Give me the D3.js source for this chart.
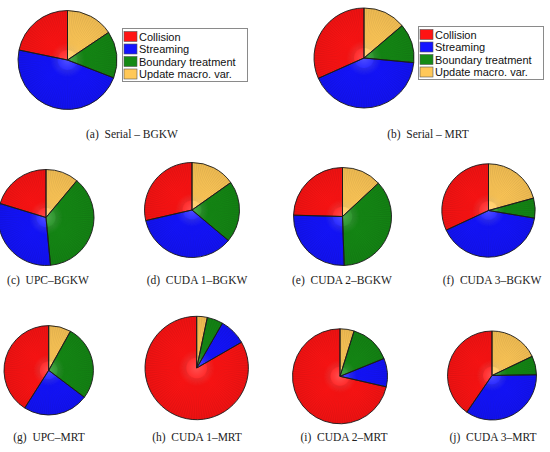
<!DOCTYPE html>
<html>
<head>
<meta charset="utf-8">
<script src="https://cdn.jsdelivr.net/npm/d3@7"></script>
<style>
  body { margin: 0; background: #fff; }
  svg { display: block; }
</style>
</head>
<body>
<script>
// categories, in the order they are drawn (counter-clockwise from 12 o'clock)
var labels = ["Collision", "Streaming", "Boundary treatment", "Update macro. var."];
var colors = ["#ff1414", "#1414ff", "#158a15", "#ffc858"];

// share of run time (%)
var serialBGKW = [21.8, 47.4, 15.3, 15.6];
var serialMRT  = [31.7, 41.9, 12.7, 13.8];
var upcBGKW    = [20.3, 31.2, 37.4, 11.1];
var cuda1BGKW  = [28.6, 35.3, 20.9, 15.2];
var cuda2BGKW  = [24.6, 26.0, 36.4, 13.1];
var cuda3BGKW  = [31.9, 40.4, 6.9, 20.7];
var upcMRT     = [41.0, 23.7, 27.2, 8.1];
var cuda1MRT   = [83.3, 8.4, 5.0, 3.3];
var cuda2MRT   = [71.5, 9.7, 14.1, 4.8];
var cuda3MRT   = [40.4, 34.8, 6.8, 17.9];

var captions = ["(a)  Serial \u2013 BGKW", "(b)  Serial \u2013 MRT",
    "(c)  UPC\u2013BGKW", "(d)  CUDA 1\u2013BGKW", "(e)  CUDA 2\u2013BGKW", "(f)  CUDA 3\u2013BGKW",
    "(g)  UPC\u2013MRT", "(h)  CUDA 1\u2013MRT", "(i)  CUDA 2\u2013MRT", "(j)  CUDA 3\u2013MRT"];

var series = [serialBGKW, serialMRT, upcBGKW, cuda1BGKW, cuda2BGKW, cuda3BGKW,
    upcMRT, cuda1MRT, cuda2MRT, cuda3MRT];

// layout: pie centre, radius, caption position
var layout = [
    {cx: 67.5, cy: 60, r: 49.5, tx: 132, ty: 134},
    {cx: 364, cy: 58, r: 50, tx: 428, ty: 134},
    {cx: 46, cy: 217.5, r: 48, tx: 48, ty: 280},
    {cx: 192, cy: 210, r: 47.5, tx: 197, ty: 280},
    {cx: 342.5, cy: 216.5, r: 49, tx: 342, ty: 280},
    {cx: 488.5, cy: 210.5, r: 46.7, tx: 492, ty: 280},
    {cx: 48.7, cy: 370.3, r: 44.7, tx: 49, ty: 437},
    {cx: 196.7, cy: 368, r: 51.7, tx: 197, ty: 437},
    {cx: 340, cy: 376.3, r: 47.5, tx: 344, ty: 437},
    {cx: 492, cy: 375.5, r: 44.5, tx: 493, ty: 437}
];
var legendBoxes = [{x: 122.5, y: 28.5}, {x: 418.5, y: 26.5}];

var W = 550, H = 452;
var svg = d3.select("body").append("svg").attr("width", W).attr("height", H);
var defs = svg.append("defs");

var pie = d3.pie().sort(null).value(function(d){ return d; })
    .startAngle(0).endAngle(-2 * Math.PI);

series.forEach(function(vals, k){
    var L = layout[k];
    var g = svg.append("g").attr("transform", "translate(" + L.cx + "," + L.cy + ")");
    var arc = d3.arc().innerRadius(0).outerRadius(L.r);

    // radial gradient centred on the pie centre
    colors.forEach(function(c, i){
        var rg = defs.append("radialGradient").attr("id", "pg" + k + "_" + i)
            .attr("gradientUnits", "userSpaceOnUse")
            .attr("cx", 0).attr("cy", 0).attr("r", L.r);
        rg.append("stop").attr("offset", "0%").attr("stop-color", d3.interpolateRgb(c, "#fff")(0.25));
        rg.append("stop").attr("offset", "35%").attr("stop-color", c);
        rg.append("stop").attr("offset", "100%").attr("stop-color", d3.interpolateRgb(c, "#000")(0.08));
    });

    g.selectAll("path.slice")
        .data(pie(vals))
        .enter()
        .append("path")
        .attr("class", "slice")
        .attr("d", arc)
        .attr("fill", function(d, i){ return "url(#pg" + k + "_" + i + ")"; });

    // fine radial hatching like the original shading
    var rays = d3.range(0, 360, 3);
    g.selectAll("line.ray")
        .data(rays)
        .enter()
        .append("line")
        .attr("class", "ray")
        .attr("x1", function(a){ return L.r * 0.2 * Math.sin(a * Math.PI / 180); })
        .attr("y1", function(a){ return -L.r * 0.2 * Math.cos(a * Math.PI / 180); })
        .attr("x2", function(a){ return L.r * Math.sin(a * Math.PI / 180); })
        .attr("y2", function(a){ return -L.r * Math.cos(a * Math.PI / 180); })
        .attr("stroke", "#000")
        .attr("stroke-opacity", 0.1)
        .attr("stroke-width", 0.5);

    g.selectAll("path.edge")
        .data(pie(vals))
        .enter()
        .append("path")
        .attr("class", "edge")
        .attr("d", arc)
        .attr("fill", "none")
        .attr("stroke", "#1a1a1a")
        .attr("stroke-width", 0.9)
        .attr("stroke-linejoin", "round");

    svg.append("text")
        .attr("x", L.tx)
        .attr("y", L.ty)
        .attr("dy", "0.35em")
        .attr("text-anchor", "middle")
        .style("font-family", "'Liberation Serif', 'DejaVu Serif', serif")
        .style("font-size", "11.5px")
        .style("white-space", "pre")
        .attr("xml:space", "preserve")
        .attr("fill", "#222")
        .text(captions[k]);
});

// legends
legendBoxes.forEach(function(b){
    var lg = svg.append("g").attr("transform", "translate(" + b.x + "," + b.y + ")");
    lg.append("rect")
        .attr("width", 125).attr("height", 53)
        .attr("fill", "#fff")
        .attr("stroke", "#8a8a8a")
        .attr("stroke-width", 1);
    var y = d3.scaleBand().domain(labels).range([1.5, 51.5]);
    var rows = lg.selectAll("g.row")
        .data(labels)
        .enter()
        .append("g")
        .attr("class", "row")
        .attr("transform", function(d){ return "translate(0," + y(d) + ")"; });
    rows.append("rect")
        .attr("x", 1.5).attr("y", 1.5)
        .attr("width", 13).attr("height", 10)
        .attr("fill", function(d, i){ return colors[i]; })
        .attr("stroke", "#555")
        .attr("stroke-width", 0.6);
    rows.append("text")
        .attr("x", 16.5)
        .attr("y", y.bandwidth() / 2 + 0.5)
        .attr("dy", "0.35em")
        .style("font-family", "'Liberation Sans', Arial, sans-serif")
        .style("font-size", "11px")
        .attr("fill", "#111")
        .text(function(d){ return d; });
});
</script>
</body>
</html>
